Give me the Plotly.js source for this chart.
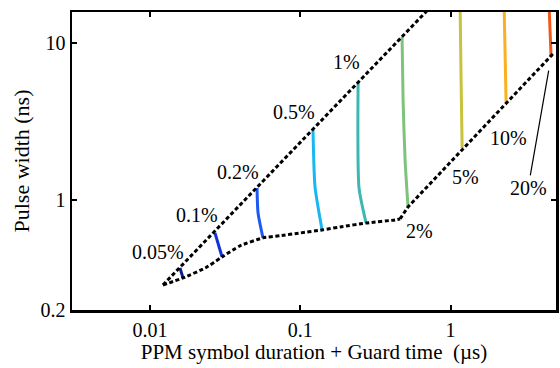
<!DOCTYPE html>
<html>
<head>
<meta charset="utf-8">
<script src="https://cdn.plot.ly/plotly-3.0.1.min.js"></script>
<style>html,body{margin:0;padding:0;background:#fff;}#chart{width:560px;height:368px;}</style>
</head>
<body>
<div id="chart"></div>
<script>
// Upper boundary (dashed)
const upperX = [0.01222, 0.70];
const upperY = [0.2874, 16.1];
// Lower boundary, curved part (dotted)
const lowerCurveX = [0.01222, 0.0166, 0.0235, 0.0302, 0.0397, 0.0565, 0.0734, 0.0998, 0.1397, 0.184, 0.278, 0.4275, 0.461];
const lowerCurveY = [0.2874, 0.3186, 0.370, 0.4335, 0.510, 0.573, 0.592, 0.616, 0.644, 0.673, 0.714, 0.746, 0.757];
// Lower boundary, straight part
const lowerRightX = [0.461, 0.521, 4.59, 4.86];
const lowerRightY = [0.757, 0.902, 8.15, 8.62];

// Contour levels
const levels = ['0.05%', '0.1%', '0.2%', '0.5%', '1%', '2%', '5%', '10%', '20%'];
const levelColors = ['#0c1c8c', '#1232d6', '#1c58f4', '#1ab6f4', '#3cb7b2', '#7ec37c', '#c8c23e', '#fcaf20', '#f0591c'];
const contourX = [
  [0.01585, 0.0166],
  [0.0271, 0.0302],
  [0.0516, 0.0524, 0.0565],
  [0.1216, 0.1254, 0.1397],
  [0.2425, 0.246, 0.274],
  [0.4755, 0.483, 0.498, 0.521],
  [1.157, 1.175, 1.193],
  [2.27, 2.34],
  [4.52, 4.66]
];
const contourY = [
  [0.369, 0.3186],
  [0.616, 0.4335],
  [1.192, 0.8265, 0.573],
  [2.79, 1.21, 0.644],
  [5.56, 1.192, 0.714],
  [10.92, 4.33, 1.80, 0.902],
  [17, 5.56, 2.14],
  [17, 4.15],
  [17, 8.15]
];

// Label positions
const labelText = ['0.05%', '0.1%', '0.2%', '0.5%', '1%', '2%', '5%', '10%'];
const labelX = [0.01132, 0.02056, 0.0383, 0.0910, 0.2017, 0.620, 1.249, 2.439];
const labelY = [0.4665, 0.797, 1.497, 3.636, 7.51, 0.637, 1.391, 2.472];
const arrowLabel = '20%';
const arrowX = 4.66;
const arrowY = 8.15;

const xTicks = [0.01, 0.1, 1, 5];
const xTickText = ['0.01', '0.1', '1', '5'];
const yTicks = [0.2, 1, 10];
const yTickText = ['0.2', '1', '10'];

const FONT = 'Liberation Serif, Times New Roman, serif';
const dashStyle = '4px,2.5px';

const traces = [];
contourX.forEach((xs, i) => {
  traces.push({
    x: xs, y: contourY[i], mode: 'lines', type: 'scatter',
    line: {color: levelColors[i], width: 3, shape: 'spline', smoothing: 0.6},
    name: levels[i], hoverinfo: 'skip'
  });
});
traces.push({x: upperX, y: upperY, mode: 'lines', type: 'scatter',
  line: {color: '#000', width: 3, dash: dashStyle}});
traces.push({x: lowerCurveX, y: lowerCurveY, mode: 'lines', type: 'scatter',
  line: {color: '#000', width: 3, dash: dashStyle, shape: 'spline', smoothing: 0.5}});
traces.push({x: lowerRightX, y: lowerRightY, mode: 'lines', type: 'scatter',
  line: {color: '#000', width: 3, dash: dashStyle}});

const annotations = labelText.map((t, i) => ({
  text: t, x: Math.log10(labelX[i]), y: Math.log10(labelY[i]), xref: 'x', yref: 'y',
  showarrow: false, font: {family: FONT, size: 20, color: '#000'}
}));
annotations.push({
  text: arrowLabel, x: Math.log10(arrowX), y: Math.log10(arrowY), xref: 'x', yref: 'y',
  showarrow: true, arrowhead: 0, arrowwidth: 1.2, arrowcolor: '#000',
  ax: -23, ay: 131, standoff: 14,
  font: {family: FONT, size: 20, color: '#000'}
});

const axisCommon = {
  type: 'log', showgrid: false, zeroline: false, showline: true, linecolor: '#000', linewidth: 2.5,
  mirror: 'allticks', ticks: 'inside', ticklen: 5, tickwidth: 2, tickcolor: '#000',
  tickfont: {family: FONT, size: 20, color: '#000'}
};

const layout = {
  width: 560, height: 368,
  margin: {l: 72, r: 4, t: 12, b: 58},
  paper_bgcolor: '#fff', plot_bgcolor: '#fff',
  showlegend: false,
  font: {family: FONT, size: 20, color: '#000'},
  xaxis: Object.assign({}, axisCommon, {
    range: [-2.518, 0.701], tickvals: xTicks, ticktext: xTickText,
    title: {text: 'PPM symbol duration + Guard time\u00a0 (\u00b5s)', font: {family: FONT, size: 21, color: '#000'}, standoff: 3}
  }),
  yaxis: Object.assign({}, axisCommon, {
    range: [-0.701, 1.197], tickvals: yTicks, ticktext: yTickText,
    title: {text: 'Pulse width (ns)', font: {family: FONT, size: 22, color: '#000'}, standoff: 5}
  }),
  annotations: annotations
};

Plotly.newPlot('chart', traces, layout, {staticPlot: true, displayModeBar: false});
</script>
</body>
</html>
